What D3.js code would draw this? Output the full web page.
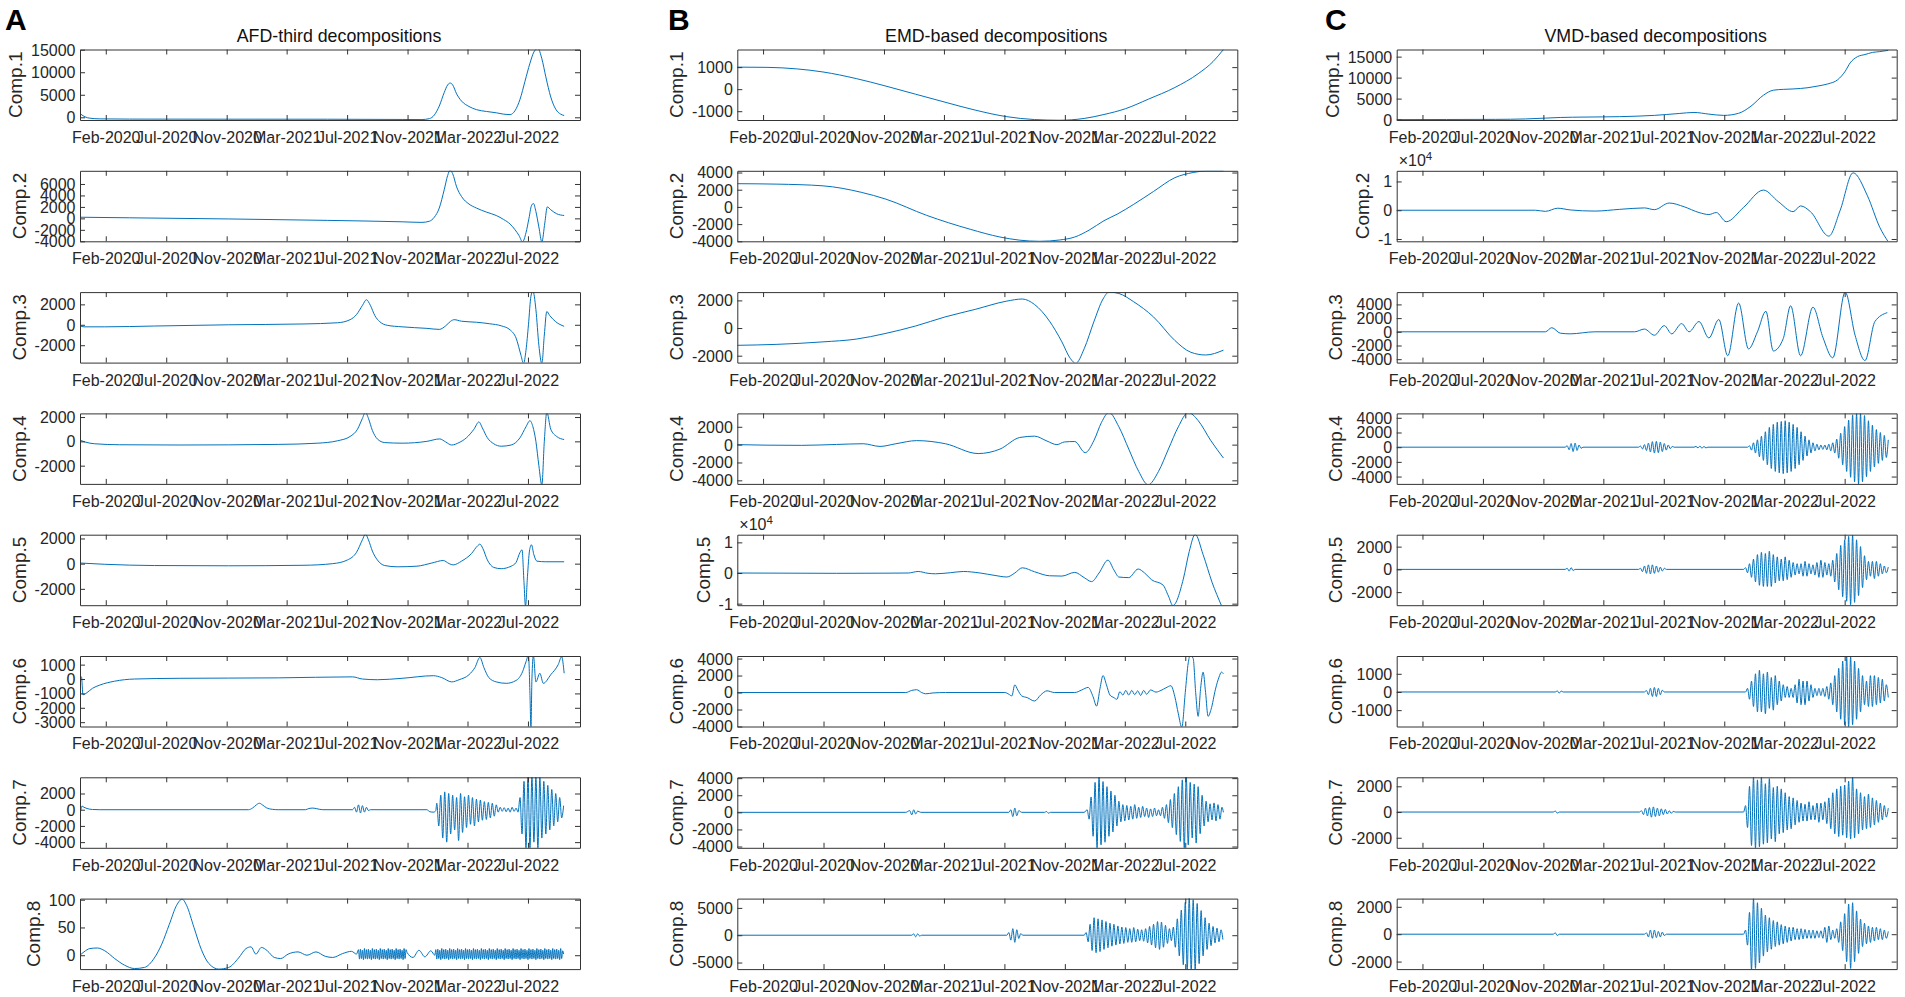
<!DOCTYPE html>
<html><head><meta charset="utf-8">
<script src="https://cdn.jsdelivr.net/npm/d3@7"></script>
<style>
body{margin:0;background:#fff}
svg{display:block}
text{font-family:"Liberation Sans",Arial,Helvetica,sans-serif}
</style>
</head><body>
<svg id="chart" width="1905" height="997"></svg>
<script>
// ---------------- axis data ----------------
const tickDays = [52,174,296,417,539,661,782,904];
const tickLabels = ["Feb-2020","Jul-2020","Nov-2020","Mar-2021","Jul-2021","Nov-2021","Mar-2022","Jul-2022"];
const xDomainDays = [0, 1009];
const panelLetters = ["A","B","C"];
const panelTitles = ["AFD-third decompositions","EMD-based decompositions","VMD-based decompositions"];
const compLabels = ["Comp.1","Comp.2","Comp.3","Comp.4","Comp.5","Comp.6","Comp.7","Comp.8"];

const A_yDomains = [[-600,15050],[-4000,8300],[-3700,3200],[-3500,2300],[-3300,2300],[-3300,1600],[-4700,4000],[-25,102]];
const A_yTicks = [[0,5000,10000,15000],[-4000,-2000,0,2000,4000,6000],[-2000,0,2000],[-2000,0,2000],[-2000,0,2000],[-3000,-2000,-1000,0,1000],[-4000,-2000,0,2000],[0,50,100]];
const A_exponents = [0,0,0,0,0,0,0,0];

const B_yDomains = [[-1400,1800],[-4000,4200],[-2500,2600],[-4400,3500],[-10500,12500],[-4000,4300],[-4150,4100],[-6200,6700]];
const B_yTicks = [[-1000,0,1000],[-4000,-2000,0,2000,4000],[-2000,0,2000],[-4000,-2000,0,2000],[-10000,0,10000],[-4000,-2000,0,2000,4000],[-4000,-2000,0,2000,4000],[-5000,0,5000]];
const B_exponents = [0,0,0,0,4,0,0,0];

const C_yDomains = [[-100,16700],[-10800,13700],[-4500,5800],[-5000,4600],[-3150,3050],[-1900,1980],[-2780,2700],[-2550,2600]];
const C_yTicks = [[0,5000,10000,15000],[-10000,0,10000],[-4000,-2000,0,2000,4000],[-4000,-2000,0,2000,4000],[-2000,0,2000],[-1000,0,1000],[-2000,0,2000],[-2000,0,2000]];
const C_exponents = [0,4,0,0,0,0,0,0];

// ---------------- series: [day, value] ----------------
const A1 = [[0,850],[4,500],[10,100],[20,-200],[40,-350],[100,-400],[300,-420],[500,-430],[650,-480],[690,-500],[705,-300],[715,500],[725,2500],[735,5500],[742,7200],[747,7600],[752,7200],[760,5200],[770,3600],[785,2400],[800,1700],[820,1300],[840,1000],[855,700],[868,600],[878,1500],[888,4000],[898,8000],[908,12000],[916,14500],[924,15300],[932,13000],[940,9000],[950,4500],[960,1800],[970,700],[977,400]];
const A2 = [[0,200],[100,100],[300,-100],[500,-350],[650,-600],[690,-700],[705,-500],[715,200],[725,1800],[735,5000],[742,7500],[747,8400],[752,7800],[760,5500],[770,3800],[785,2500],[800,1800],[820,1100],[840,500],[855,-200],[868,-1000],[878,-2000],[886,-3000],[893,-4100],[900,-2500],[906,0],[911,2200],[915,2600],[920,1200],[926,-1500],[932,-4100],[938,-800],[943,2000],[950,1500],[962,800],[977,500]];
const A3 = [[0,-100],[8,-200],[50,-200],[150,-120],[300,0],[450,80],[520,200],[545,500],[558,1000],[570,1900],[578,2450],[586,1900],[595,900],[605,300],[620,-50],[650,-200],[700,-350],[725,-450],[738,-100],[748,350],[755,500],[770,350],[800,250],[827,100],[850,-100],[868,-500],[880,-1300],[890,-3000],[895,-3800],[900,-2500],[905,0],[910,2800],[914,3300],[920,1500],[926,-2000],[932,-3800],[937,-1000],[942,1300],[948,900],[960,300],[977,-150]];
const A4 = [[0,100],[10,-50],[30,-200],[80,-280],[200,-300],[400,-250],[480,-150],[520,50],[545,400],[560,1000],[570,1900],[576,2400],[582,1900],[590,900],[600,200],[615,-100],[650,-150],[700,0],[726,200],[738,-50],[750,-300],[765,-100],[780,300],[795,1000],[805,1600],[812,1100],[822,300],[835,-200],[850,-400],[870,-300],[888,300],[900,1200],[908,1700],[914,1200],[920,0],[926,-2000],[932,-3600],[937,0],[942,2400],[950,1000],[962,400],[977,150]];
const A5 = [[0,50],[50,-50],[150,-150],[300,-170],[450,-130],[510,0],[540,300],[558,900],[570,1900],[576,2350],[582,1900],[590,1000],[600,300],[615,-150],[640,-250],[680,-200],[710,50],[733,250],[745,0],[753,-100],[770,200],[790,800],[802,1400],[807,1550],[813,1200],[822,300],[835,-300],[850,-400],[870,-200],[880,100],[888,900],[892,1100],[896,-1500],[899,-3400],[903,-1000],[907,1000],[911,1500],[916,700],[922,200],[940,150],[977,150]];
const A6 = [[0,150],[3,150],[6,-1100],[12,-1000],[25,-650],[40,-420],[70,-150],[110,0],[200,50],[400,80],[550,150],[570,0],[600,-50],[650,50],[713,230],[730,100],[750,-200],[765,-50],[785,300],[797,800],[807,1500],[815,800],[825,100],[840,-200],[860,-300],[880,-100],[893,500],[900,1200],[905,1650],[908,-1000],[910,-3400],[912,0],[915,1650],[920,-200],[928,400],[935,-300],[950,300],[965,1000],[972,1550],[977,400]];
const A7 = [[0,-700],[4,450],[8,300],[14,150],[25,30],[40,0],[340,0],[348,200],[356,600],[362,800],[368,600],[376,250],[388,50],[400,0],[455,0],[462,150],[470,200],[478,120],[490,0],[550,0],[554,300],[558,-300],[562,600],[566,-400],[570,500],[574,-300],[578,300],[582,-100],[586,0],[700,0],[706,-250],[714,-300],[718,-100],
[720,800],[724,-2000],[728,1800],[732,-3500],[736,2200],[740,-4000],[744,2000],[748,-3000],[752,1800],[756,-2500],[760,1500],[764,-3800],[768,2000],[772,-2800],[776,1600],[780,-2200],[784,1800],[788,-1800],[792,1500],[796,-2000],[800,1300],[804,-1500],[808,1200],[812,-1300],[816,1000],[820,-1200],[824,900],[828,-1000],[832,800],[836,-800],[840,600],[844,-300],[848,300],[852,-200],[856,250],[860,-250],[864,200],[868,-300],[872,300],[876,-200],[880,200],[884,-300],
[888,1500],[892,-3000],[896,3500],[900,-4800],[904,4100],[908,-4800],[912,4100],[916,-4000],[920,4100],[924,-4800],[928,4000],[932,-3500],[936,3500],[940,-3000],[944,3000],[948,-2500],[952,2500],[956,-2000],[960,2000],[964,-1500],[968,1500],[972,-1000],[976,500]];
const A8 = [[0,0],[8,6],[20,12],[35,13],[50,8],[70,-6],[90,-18],[110,-24],[130,-22],[150,-5],[165,20],[180,55],[195,90],[206,101],[215,90],[230,50],[245,10],[260,-15],[280,-25],[300,-22],[320,-5],[335,12],[345,15],[355,2],[366,14],[378,8],[392,-4],[405,-6],[420,2],[440,6],[458,0],[476,6],[495,-2],[510,-4],[530,3],[548,7],[558,2],
[562,10],[564,-7],[566,11],[568,-6],[570,9],[572,-8],[574,12],[576,-6],[578,10],[580,-7],[582,11],[584,-6],[586,9],[588,-8],[590,12],[592,-6],[594,10],[596,-7],[598,11],[600,-6],[602,9],[604,-8],[606,12],[608,-6],[610,10],[612,-7],[614,11],[616,-6],[618,9],[620,-8],[622,12],[624,-6],[626,10],[628,-7],[630,11],[632,-6],[634,9],[636,-8],[638,12],[640,-6],[642,10],[644,-7],[646,11],[648,-6],[650,9],[652,-8],[654,12],[656,-6],[658,10],[660,5],
[672,-4],[684,9],[696,-3],[708,8],[716,0],
[718,10],[720,-7],[722,11],[724,-6],[726,9],[728,-8],[730,12],[732,-6],[734,10],[736,-7],[738,11],[740,-6],[742,9],[744,-8],[746,12],[748,-6],[750,10],[752,-7],[754,11],[756,-6],[758,9],[760,-8],[762,12],[764,-6],[766,10],[768,-7],[770,11],[772,-6],[774,9],[776,-8],[778,12],[780,-6],[782,10],[784,-7],[786,11],[788,-6],[790,9],[792,-8],[794,12],[796,-6],[798,10],[800,-7],[802,11],[804,-6],[806,9],[808,-8],[810,12],[812,-6],[814,10],[816,-7],[818,11],[820,-6],[822,9],[824,-8],[826,12],[828,-6],[830,10],[832,-7],[834,11],[836,-6],[838,9],[840,-8],[842,12],[844,-6],[846,10],[848,-7],[850,11],[852,-6],[854,9],[856,-8],[858,12],[860,-6],[862,10],[864,-7],[866,11],[868,-6],[870,9],[872,-8],[874,12],[876,-6],[878,10],[880,-7],[882,11],[884,-6],[886,9],[888,-8],[890,12],[892,-6],[894,10],[896,-7],[898,11],[900,-6],[902,9],[904,-8],[906,12],[908,-6],[910,10],[912,-7],[914,11],[916,-6],[918,9],[920,-8],[922,12],[924,-6],[926,10],[928,-7],[930,11],[932,-6],[934,9],[936,-8],[938,12],[940,-6],[942,10],[944,-7],[946,11],[948,-6],[950,9],[952,-8],[954,12],[956,-6],[958,10],[960,-7],[962,11],[964,-6],[966,9],[968,-8],[970,12],[972,-6],[974,8],[976,2]];

const B1 = [[0,1000],[60,990],[120,920],[173,780],[240,480],[298,150],[360,-230],[419,-590],[480,-950],[544,-1250],[600,-1380],[650,-1410],[700,-1330],[740,-1150],[783,-890],[830,-450],[883,75],[930,700],[960,1250],[981,1800]];
const B2 = [[0,2700],[80,2650],[173,2450],[250,1700],[300,900],[382,-980],[470,-2600],[530,-3500],[570,-3870],[610,-4000],[650,-3850],[681,-3500],[710,-2700],[740,-1600],[768,-800],[800,300],[840,1800],[883,3400],[920,4000],[950,4200],[981,4200]];
const B3 = [[0,-1250],[80,-1180],[173,-1000],[240,-800],[298,-400],[360,150],[419,800],[480,1350],[544,1950],[575,2100],[600,1700],[630,500],[655,-1000],[672,-2200],[683,-2550],[700,-1500],[720,500],[738,2100],[750,2600],[770,2500],[800,1900],[840,800],[883,-900],[915,-1750],[945,-1950],[981,-1600]];
const B4 = [[0,0],[60,-60],[130,-80],[200,20],[254,100],[288,-200],[320,100],[362,450],[420,100],[486,-1000],[530,-500],[570,800],[600,950],[625,400],[645,0],[660,300],[681,350],[702,-900],[720,500],[735,2500],[750,3600],[770,2000],[790,-500],[810,-3000],[829,-4500],[850,-3000],[870,-500],[890,2000],[910,3600],[930,2700],[955,500],[981,-1500]];
const B5 = [[0,0],[200,-100],[300,-50],[345,0],[365,500],[385,-100],[400,-250],[430,100],[456,500],[490,0],[520,-800],[544,-1300],[560,0],[575,1700],[600,400],[630,-900],[655,-1000],[681,200],[700,-1500],[715,-2800],[730,0],[748,4200],[760,1000],[770,-1300],[790,-1500],[809,1300],[822,0],[836,-2200],[859,-3900],[870,-7500],[879,-10600],[900,-2000],[912,7000],[924,12600],[940,6000],[958,-3000],[977,-10600]];
const B6 = [[0,0],[340,0],[352,250],[362,330],[372,0],[380,-150],[395,-50],[420,0],[540,0],[548,-200],[554,-400],[560,900],[566,300],[574,-400],[585,-600],[600,-1000],[612,-300],[625,200],[640,0],[681,0],[695,300],[708,600],[718,-500],[725,-1600],[732,500],[738,2000],[745,900],[752,-300],[760,-600],[766,-800],[772,100],[778,-300],[784,250],[790,-300],[796,250],[802,-250],[808,200],[814,-350],[820,250],[826,-200],[834,300],[845,50],[855,250],[865,550],[875,800],[883,-500],[890,-2500],[897,-4100],[904,0],[910,3500],[914,4400],[920,4000],[925,0],[930,-2800],[935,500],[940,2400],[945,0],[950,-2800],[956,-2000],[965,400],[972,1800],[977,2400],[981,2200]];
const B7 = [[0,0],[340,0],[348,200],[352,-300],[356,300],[360,-200],[364,150],[370,0],[548,0],[552,300],[556,-500],[560,500],[564,-400],[568,200],[574,0],[620,0],[624,100],[628,-100],[632,0],[700,0],[706,300],
[710,-800],[714,1800],[718,-2800],[722,3500],[726,-4200],[730,4200],[734,-3800],[738,3600],[742,-3500],[746,3000],[750,-2800],[754,2500],[758,-2300],[762,2000],[766,-1600],[770,1300],[774,-1100],[778,900],[782,-1000],[786,800],[790,-900],[794,700],[798,-800],[802,900],[806,-700],[810,600],[814,-600],[818,700],[822,-500],[826,500],[830,-600],[834,400],[838,-500],[842,500],[846,-400],[850,300],[854,-400],[858,600],[862,-700],[866,900],[870,-1200],[874,1500],[878,-1800],[882,2200],[886,-2600],[890,3000],[894,-3400],[898,3800],[902,-4200],[906,4200],[910,-3800],[914,3500],[918,-3000],[922,3300],[926,-3600],[930,3000],[934,-2500],[938,2000],[942,-1600],[946,1300],[950,-1100],[954,1000],[958,-900],[962,1100],[966,-1000],[970,900],[974,-800],[978,600],[981,0]];
const B8 = [[0,0],[352,0],[356,250],[360,-300],[364,250],[368,-150],[372,0],[544,0],[548,500],[552,-900],[556,1200],[560,-1300],[564,1000],[568,-600],[572,300],[576,0],[700,0],
[704,500],[708,-1200],[712,2000],[716,-2800],[720,3200],[724,-3200],[728,3000],[732,-3000],[736,2800],[740,-2600],[744,2500],[748,-2300],[752,2200],[756,-2000],[760,2000],[764,-1800],[768,1700],[772,-1600],[776,1500],[780,-1500],[784,1400],[788,-1300],[792,1200],[796,-1300],[800,1400],[804,-1200],[808,1100],[812,-1000],[816,1000],[820,-1100],[824,1200],[828,-1400],[832,1600],[836,-1800],[840,2000],[844,-2300],[848,2500],[852,-2600],[856,2400],[860,-2200],[864,1800],[868,-1500],[872,1200],[876,-1000],[880,1500],[884,-2200],[888,3000],[892,-3800],[896,4600],[900,-5400],[904,6000],[908,-6500],[912,7000],[916,-6600],[920,6500],[924,-6300],[928,5800],[932,-5200],[936,4500],[940,-3800],[944,3200],[948,-2600],[952,2200],[956,-1900],[960,1600],[964,-1400],[968,1300],[972,-1200],[976,1000],[980,-800]];

const C1 = [[0,0],[100,20],[200,50],[260,150],[300,350],[330,500],[380,600],[450,700],[520,1000],[570,1450],[600,1700],[630,1300],[660,1000],[690,1500],[715,3200],[740,5800],[760,7000],[780,7200],[800,7300],[830,7600],[850,8000],[870,8500],[890,9500],[905,11500],[915,13500],[930,15000],[945,15500],[960,16000],[975,16200],[992,16500]];
const C2 = [[0,0],[280,0],[300,-400],[325,700],[350,100],[400,-300],[450,300],[500,800],[520,200],[550,2500],[580,1200],[610,-800],[630,-1500],[645,-800],[665,-4000],[700,1000],[740,7000],[770,3000],[800,-500],[815,1500],[835,-500],[872,-9000],[895,0],[921,13000],[950,5000],[975,-6000],[992,-11000]];
const C3 = [[0,0],[300,0],[313,600],[330,-200],[350,-300],[400,0],[480,0],[500,400],[520,-500],[540,900],[555,-300],[575,1200],[590,0],[610,1500],[630,-900],[650,1800],[668,-3500],[690,4200],[710,-2500],[728,0],[745,3000],[760,-2800],[780,-1000],[795,3800],[815,-3500],[840,3600],[860,-800],[880,-3800],[905,5800],[925,-500],[945,-4200],[965,1500],[990,2800]];
const C4 = [[0,0],[340,0],[344,200],[348,-350],[352,500],[356,-600],[360,550],[364,-450],[368,300],[372,-150],[376,0],
[488,0],[492,150],[496,-250],[500,350],[504,-450],[508,550],[512,-650],[516,750],[520,-800],[524,800],[528,-750],[532,700],[536,-600],[540,500],[544,-400],[548,300],[552,-200],[556,100],[560,0],
[600,0],[604,100],[608,-100],[612,150],[616,-150],[620,100],[624,-100],[628,0],
[708,0],[712,200],[716,-400],[720,600],[724,-800],[728,1000],[732,-1300],[736,1500],[740,-1800],[744,2100],[748,-2400],[752,2700],[756,-2900],[760,3100],[764,-3300],[768,3400],[772,-3500],[776,3500],[780,-3600],[784,3600],[788,-3500],[792,3400],[796,-3300],[800,3100],[804,-2900],[808,2700],[812,-2400],[816,2100],[820,-1800],[824,1500],[828,-1200],[832,1000],[836,-800],[840,600],[844,-500],[848,400],[852,-350],[856,300],[860,-300],[864,300],[868,-350],[872,400],[876,-500],[880,600],
[884,-800],[888,1100],[892,-1500],[896,1900],[900,-2400],[904,2800],[908,-3300],[912,3700],[916,-4100],[920,4400],[924,-4700],[928,4600],[932,-5000],[936,4600],[940,-4700],[944,4300],[948,-4000],[952,3600],[956,-3300],[960,3000],[964,-2700],[968,2400],[972,-2200],[976,2000],[980,-1800],[984,1600],[988,-1400],[992,1000]];
const C5 = [[0,0],[340,0],[344,100],[348,-150],[352,150],[356,-100],[360,0],
[488,0],[492,100],[496,-200],[500,300],[504,-350],[508,400],[512,-400],[516,400],[520,-350],[524,300],[528,-250],[532,200],[536,-150],[540,100],[544,0],
[700,0],[704,150],[708,-300],[712,500],[716,-700],[720,900],[724,-1100],[728,1300],[732,-1400],[736,1500],[740,-1500],[744,1400],[748,-1500],[752,1600],[756,-1500],[760,1300],[764,-1200],[768,1100],[772,-1000],[776,900],[780,-1000],[784,1100],[788,-900],[792,800],[796,-700],[800,600],[804,-500],[808,500],[812,-400],[816,500],[820,-600],[824,700],[828,-600],[832,500],[836,-400],[840,400],[844,-500],[848,600],[852,-700],[856,800],[860,-700],[864,600],[868,-500],[872,500],[876,-600],[880,800],[884,-1100],[888,1400],[892,-1800],[896,2100],[900,-2400],[904,2600],[908,-2800],[912,2900],[916,-3100],[920,3000],[924,-2900],[928,2600],[932,-2300],[936,2000],[940,-1600],[944,1200],[948,-900],[952,700],[956,-600],[960,700],[964,-800],[968,700],[972,-600],[976,500],[980,-400],[984,300],[988,-300],[992,200]];
const C6 = [[0,0],[320,0],[324,60],[328,-60],[332,50],[336,0],
[500,0],[504,80],[508,-150],[512,200],[516,-250],[520,250],[524,-250],[528,200],[532,-150],[536,100],[540,0],
[704,0],[708,200],[712,-400],[716,600],[720,-800],[724,1000],[728,-1100],[732,1200],[736,-1100],[740,1000],[744,-1200],[748,1100],[752,-900],[756,800],[760,-1000],[764,900],[768,-700],[772,600],[776,-500],[780,400],[784,-300],[788,300],[792,-300],[796,200],[800,-300],[804,400],[808,-600],[812,700],[816,-700],[820,600],[824,-700],[828,600],[832,-500],[836,400],[840,-300],[844,200],[848,-200],[852,200],[856,-200],[860,200],[864,-250],[868,300],[872,-400],[876,500],[880,-700],[884,900],[888,-1100],[892,1300],[896,-1500],[900,1700],[904,-1800],[908,2000],[912,-1950],[916,1950],[920,-1800],[924,1700],[928,-1500],[932,1300],[936,-1100],[940,900],[944,-700],[948,600],[952,-800],[956,900],[960,-800],[964,900],[968,-700],[972,800],[976,-600],[980,700],[984,-500],[988,400],[992,-300]];
const C7 = [[0,0],[316,0],[320,80],[324,-80],[328,0],
[490,0],[494,100],[498,-200],[502,300],[506,-300],[510,350],[514,-400],[518,400],[522,-350],[526,300],[530,-300],[534,250],[538,-200],[542,200],[546,-150],[550,100],[554,-100],[558,50],[562,0],
[700,0],[704,500],[708,-1200],[712,2000],[716,-2600],[720,2700],[724,-2800],[728,2500],[732,-2700],[736,2700],[740,-2500],[744,2200],[748,-2400],[752,2600],[756,-2100],[760,1900],[764,-2300],[768,2000],[772,-1700],[776,1800],[780,-1600],[784,1500],[788,-1400],[792,1200],[796,-1300],[800,1100],[804,-1000],[808,900],[812,-800],[816,700],[820,-700],[824,600],[828,-700],[832,800],[836,-600],[840,500],[844,-600],[848,700],[852,-800],[856,700],[860,-600],[864,800],[868,-900],[872,1100],[876,-1300],[880,1500],[884,-1700],[888,1800],[892,-1900],[896,2000],[900,-1800],[904,2100],[908,-2000],[912,2400],[916,-2100],[920,2700],[924,-2000],[928,1800],[932,-1700],[936,1500],[940,-1400],[944,1200],[948,-1300],[952,1400],[956,-1200],[960,1100],[964,-1000],[968,900],[972,-800],[976,700],[980,-600],[984,500],[988,-400],[992,300]];
const C8 = [[0,0],[316,0],[320,100],[324,-100],[328,0],
[500,0],[504,100],[508,-200],[512,300],[516,-300],[520,300],[524,-250],[528,200],[532,-200],[536,150],[540,-100],[544,0],
[700,0],[704,300],[708,-800],[712,1600],[716,-2600],[720,2600],[724,-2500],[728,2300],[732,-2100],[736,1900],[740,-1600],[744,1400],[748,-1300],[752,1200],[756,-1100],[760,1000],[764,-900],[768,900],[772,-800],[776,700],[780,-700],[784,600],[788,-600],[792,500],[796,-500],[800,500],[804,-400],[808,400],[812,-400],[816,400],[820,-350],[824,350],[828,-300],[832,300],[836,-300],[840,300],[844,-300],[848,250],[852,-250],[856,250],[860,-300],[864,500],[868,-600],[872,600],[876,-400],[880,300],[884,-300],[888,400],[892,-600],[896,900],[900,-1200],[904,1500],[908,-2000],[912,2200],[916,-2500],[920,2300],[924,-2000],[928,1700],[932,-1400],[936,1100],[940,-900],[944,800],[948,-700],[952,600],[956,-600],[960,500],[964,-500],[968,500],[972,-400],[976,400],[980,-400],[984,300],[988,-300],[992,200]];

// ---------------- layout ----------------
const PANEL_LEFT = [80, 737.3, 1396.7];
const LETTER_X = [5, 668, 1325];
const AX_W = 500, AX_H = 70.5, ROW_TOP0 = 49.5, ROW_PITCH = 121.3;
const LINE_COLOR = "#0072BD", AXIS_COLOR = "#333333", TEXT_COLOR = "#262626";
const TICK_FS = 16, LABEL_FS = 19, TITLE_FS = 17.8;

const panels = [
  {series:[A1,A2,A3,A4,A5,A6,A7,A8], domains:A_yDomains, ticks:A_yTicks, exps:A_exponents},
  {series:[B1,B2,B3,B4,B5,B6,B7,B8], domains:B_yDomains, ticks:B_yTicks, exps:B_exponents},
  {series:[C1,C2,C3,C4,C5,C6,C7,C8], domains:C_yDomains, ticks:C_yTicks, exps:C_exponents}
];

const svg = d3.select("#chart");
const x = d3.scaleLinear().domain(xDomainDays).range([0, AX_W]);

function styleAxis(g, showText){
  g.attr("font-family", null).attr("font-size", null);
  g.selectAll(".domain").attr("stroke", AXIS_COLOR).attr("stroke-width", 1);
  g.selectAll(".tick line").attr("stroke", AXIS_COLOR).attr("stroke-width", 1);
  g.selectAll(".tick text").attr("fill", TEXT_COLOR).style("font-size", TICK_FS + "px");
  if (!showText) g.selectAll(".tick text").remove();
}

panels.forEach((panel, pi) => {
  const left = PANEL_LEFT[pi];
  svg.append("text").attr("x", LETTER_X[pi]).attr("y", 30)
    .attr("font-size", 30).attr("font-weight", "bold").attr("fill", "#000")
    .text(panelLetters[pi]);
  svg.append("text").attr("x", left + AX_W / 2 + 9).attr("y", 41.5)
    .attr("text-anchor", "middle").attr("font-size", TITLE_FS).attr("fill", "#111")
    .text(panelTitles[pi]);

  panel.series.forEach((data, r) => {
    const top = ROW_TOP0 + r * ROW_PITCH;
    const y = d3.scaleLinear().domain(panel.domains[r]).range([AX_H, 0]);
    const g = svg.append("g").attr("transform", `translate(${left},${top})`);
    const clipId = `clip-${pi}-${r}`;
    g.append("clipPath").attr("id", clipId).append("rect").attr("width", AX_W).attr("height", AX_H);

    const line = d3.line().x(d => x(d[0])).y(d => y(d[1])).curve(d3.curveMonotoneX);
    g.append("path").datum(data).attr("clip-path", `url(#${clipId})`)
      .attr("fill", "none").attr("stroke", LINE_COLOR).attr("stroke-width", 1)
      .attr("stroke-linejoin", "round").attr("d", line);

    const exp = panel.exps[r];
    const fmt = d => String(Math.round(d / Math.pow(10, exp)));

    const gb = g.append("g").attr("transform", `translate(0,${AX_H})`)
      .call(d3.axisBottom(x).tickValues(tickDays).tickFormat((d, i) => tickLabels[i])
        .tickSizeInner(-5).tickSizeOuter(0).tickPadding(11.6));
    styleAxis(gb, true);
    const gt = g.append("g")
      .call(d3.axisTop(x).tickValues(tickDays).tickSizeInner(-5).tickSizeOuter(0));
    styleAxis(gt, false);
    const gl = g.append("g")
      .call(d3.axisLeft(y).tickValues(panel.ticks[r]).tickFormat(fmt)
        .tickSizeInner(-5).tickSizeOuter(0).tickPadding(4.5));
    styleAxis(gl, true);
    gl.selectAll(".tick text").attr("dy", "0.34em");
    const gr = g.append("g").attr("transform", `translate(${AX_W},0)`)
      .call(d3.axisRight(y).tickValues(panel.ticks[r]).tickSizeInner(-5).tickSizeOuter(0));
    styleAxis(gr, false);

    let maxW = 0;
    gl.selectAll(".tick text").each(function(){ maxW = Math.max(maxW, this.getComputedTextLength()); });
    const cx = -4.5 - maxW - 15.5;
    g.append("text").attr("transform", `translate(${cx},${AX_H / 2}) rotate(-90)`)
      .attr("text-anchor", "middle").attr("dy", "0.35em")
      .attr("font-size", LABEL_FS).attr("fill", TEXT_COLOR)
      .text(compLabels[r]);

    if (exp) {
      const t = g.append("text").attr("x", 2).attr("y", -5)
        .attr("font-size", TICK_FS).attr("fill", TEXT_COLOR);
      t.append("tspan").text("\u00d710");
      t.append("tspan").attr("dy", -6).attr("font-size", 11.5).text(String(exp));
    }
  });
});
</script>
</body></html>
